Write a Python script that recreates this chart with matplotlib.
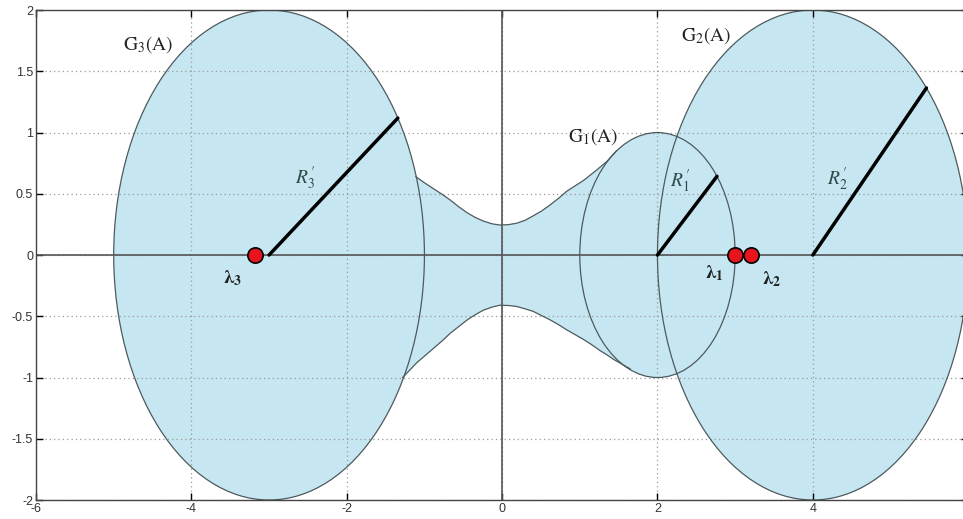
import numpy as np
import matplotlib.pyplot as plt
from matplotlib.patches import Circle, Polygon

plt.rcParams['mathtext.fontset'] = 'stix'
plt.rcParams['axes.unicode_minus'] = False

# Gershgorin-type discs: centre, radius, angle of the drawn radius (deg)
disc_names = [r"$\mathrm{G}_1\mathrm{(A)}$", r"$\mathrm{G}_2\mathrm{(A)}$", r"$\mathrm{G}_3\mathrm{(A)}$"]
disc_centers = [2.0, 4.0, -3.0]
disc_radii = [1.0, 2.0, 2.0]
radius_angles = [40.0, 43.0, 34.0]
radius_names = [r"$R_1^{\,\prime}$", r"$R_2^{\,\prime}$", r"$R_3^{\,\prime}$"]

# eigenvalues on the real axis
eig_names = [r"$\boldsymbol{\lambda}_\mathbf{1}$", r"$\boldsymbol{\lambda}_\mathbf{2}$", r"$\boldsymbol{\lambda}_\mathbf{3}$"]
eig_values = [3.0, 3.2, -3.18]

# boundary of the neck joining G3 and G1
neck_upper_x = [-1.11, -1.0, -0.88, -0.77, -0.67, -0.56, -0.45, -0.34, -0.24, -0.13, -0.03,
                0.08, 0.19, 0.30, 0.40, 0.51, 0.62, 0.73, 0.83, 0.94, 1.05, 1.2, 1.35, 1.47]
neck_upper_y = [0.64, 0.59, 0.54, 0.495, 0.45, 0.395, 0.345, 0.305, 0.277, 0.255, 0.245,
                0.248, 0.26, 0.285, 0.32, 0.36, 0.41, 0.465, 0.52, 0.565, 0.61, 0.685, 0.765, 0.85]
neck_lower_x = [-1.28, -1.19, -1.10, -0.99, -0.88, -0.77, -0.67, -0.56, -0.45, -0.34, -0.24, -0.13,
                -0.03, 0.08, 0.19, 0.30, 0.40, 0.51, 0.62, 0.73, 0.83, 0.94, 1.05, 1.16, 1.26,
                1.35, 1.43, 1.54, 1.65]
neck_lower_y = [-1.0, -0.94, -0.88, -0.82, -0.76, -0.70, -0.64, -0.585, -0.53, -0.485, -0.45, -0.425,
                -0.41, -0.412, -0.42, -0.44, -0.46, -0.495, -0.53, -0.57, -0.61, -0.65, -0.69, -0.735, -0.78,
                -0.815, -0.85, -0.89, -0.93]

fill_col = "#c6e7f1"
edge_col = "#4d5a5e"

fig = plt.figure(figsize=(9.63, 5.19), dpi=100)
ax = fig.add_axes([0.0374, 0.0366, 0.968, 0.944])
ax.set_xlim(-6, 6)
ax.set_ylim(-2, 2)

# filled regions
for c, r in zip(disc_centers, disc_radii):
    ax.add_patch(Circle((c, 0), r, facecolor=fill_col, edgecolor="none", zorder=1))
neck_pts = list(zip(neck_upper_x, neck_upper_y)) + list(zip(neck_lower_x[::-1], neck_lower_y[::-1]))
ax.add_patch(Polygon(neck_pts, closed=True, facecolor=fill_col, edgecolor="none", zorder=1))

# outlines
for c, r in zip(disc_centers, disc_radii):
    ax.add_patch(Circle((c, 0), r, facecolor="none", edgecolor=edge_col, lw=0.9, zorder=3))
ax.plot(neck_upper_x, neck_upper_y, color=edge_col, lw=0.9, zorder=3)
ax.plot(neck_lower_x, neck_lower_y, color=edge_col, lw=0.9, zorder=3)

# coordinate axes
ax.axhline(0, color="#555555", lw=1.2, zorder=3)
ax.axvline(0, color="#555555", lw=1.2, zorder=3)

# radii
for c, r, a in zip(disc_centers, disc_radii, radius_angles):
    t = np.deg2rad(a)
    ax.plot([c, c + r * np.cos(t)], [0, r * np.sin(t)], color="black", lw=2.5,
            solid_capstyle="round", zorder=4)

# eigenvalues
ax.plot(eig_values, np.zeros(len(eig_values)), "o", ms=11, mfc="#e8141c",
        mec="black", mew=1.2, zorder=5)

# labels
text_kw = dict(fontsize=14, ha="center", va="center", zorder=6)
ax.text(1.17, 0.97, disc_names[0], color="#222222", **text_kw)
ax.text(2.63, 1.79, disc_names[1], color="#222222", **text_kw)
ax.text(-4.56, 1.72, disc_names[2], color="#222222", **text_kw)
ax.text(2.30, 0.60, radius_names[0], color="#2f4a4a", **text_kw)
ax.text(4.31, 0.62, radius_names[1], color="#2f4a4a", **text_kw)
ax.text(-2.53, 0.63, radius_names[2], color="#2f4a4a", **text_kw)
ax.text(2.73, -0.15, eig_names[0], color="#222222", **text_kw)
ax.text(3.47, -0.20, eig_names[1], color="#222222", **text_kw)
ax.text(-3.47, -0.19, eig_names[2], color="#222222", **text_kw)

# MATLAB-like frame, ticks and dotted grid
ax.set_xticks([-6, -4, -2, 0, 2, 4, 6])
ax.set_yticks([-2, -1.5, -1, -0.5, 0, 0.5, 1, 1.5, 2])
ax.set_xticklabels(["-6", "-4", "-2", "0", "2", "4", ""])
ax.set_yticklabels(["-2", "-1.5", "-1", "-0.5", "0", "0.5", "1", "1.5", "2"])
ax.tick_params(direction="in", length=5, width=1, top=True, right=True,
               labelsize=9, labelcolor="#333333", pad=2)
for lab in ax.get_xticklabels() + ax.get_yticklabels():
    lab.set_family("Liberation Sans")
ax.set_axisbelow(False)
ax.grid(True, linestyle=(0, (1, 2.5)), color="#9a9a9a", lw=0.9)
for s in ax.spines.values():
    s.set_color("#444444")
    s.set_linewidth(1.0)
    s.set_zorder(7)

fig.savefig("out.png", dpi=100)
